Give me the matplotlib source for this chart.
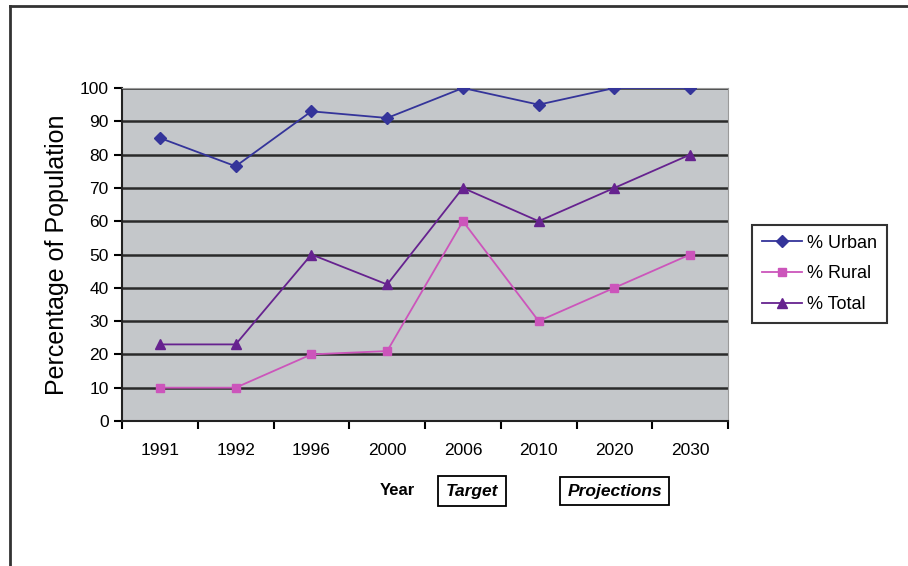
import matplotlib.pyplot as plt
from matplotlib.lines import Line2D
import numpy as np

plt.rcParams['font.family'] = ['Liberation Sans', 'DejaVu Sans']

years = ['1991', '1992', '1996', '2000', '2006', '2010', '2020', '2030']
urban = [85, 76.5, 93, 91, 100, 95, 100, 100]
rural = [10, 10, 20, 21, 60, 30, 40, 50]
total = [23, 23, 50, 41, 70, 60, 70, 80]

fig = plt.figure(figsize=(9.08, 5.66), dpi=100)
ax = fig.add_axes([0.1344, 0.2562, 0.6674, 0.5883])
ax.set_facecolor('#c4c7ca')

x = np.arange(len(years))
ax.plot(x, urban, color='#34349a', marker='D', markersize=6, lw=1.3, label='% Urban', zorder=5)
ax.plot(x, rural, color='#cc55bb', marker='s', markersize=6, lw=1.3, label='% Rural', zorder=4)
ax.plot(x, total, color='#66228f', marker='^', markersize=7.5, lw=1.3, label='% Total', zorder=4)

ax.set_xlim(-0.5, len(years) - 0.5)
ax.set_ylim(0, 100)
ax.set_yticks(np.arange(0, 101, 10))
ax.set_xticks(x)
ax.set_xticklabels(years)
ax.set_xticks(np.arange(-0.5, len(years) - 0.4, 1), minor=True)
ax.tick_params(axis='x', which='major', length=0, pad=16, labelsize=12.5)
ax.tick_params(axis='x', which='minor', length=6, width=1.5, direction='out')
ax.tick_params(axis='y', length=6, width=1.5, direction='out', labelsize=12.5)
ax.grid(axis='y', color='#2a2a2a', lw=1.8)
ax.set_axisbelow(True)
for s in ['top', 'right']:
    ax.spines[s].set_color('#9a9a9a')
for s in ['left', 'bottom']:
    ax.spines[s].set_linewidth(1.5)
    ax.spines[s].set_color('#222222')

ax.set_ylabel('Percentage of Population', fontsize=18, labelpad=8)

leg = ax.legend(loc='upper left', bbox_to_anchor=(1.04, 0.589), fontsize=13,
                frameon=True, fancybox=False, edgecolor='black', borderpad=0.55,
                borderaxespad=0, labelspacing=0.75, handlelength=2.2, handletextpad=0.3)
leg.get_frame().set_linewidth(1.5)

fig.text(0.438, 0.134, 'Year', fontsize=12, fontweight='bold', ha='center', va='center')
fig.text(0.520, 0.1325, 'Target', fontsize=12.5, fontweight='bold', style='italic',
         ha='center', va='center',
         bbox=dict(boxstyle='square,pad=0.45', fc='white', ec='black', lw=1.3))
fig.text(0.677, 0.1325, 'Projections', fontsize=12.5, fontweight='bold', style='italic',
         ha='center', va='center',
         bbox=dict(boxstyle='square,pad=0.4', fc='white', ec='black', lw=1.3))

# outer frame (top and left only)
fig.add_artist(Line2D([0.011, 1.0], [0.989, 0.989], color='#333333', lw=2, transform=fig.transFigure))
fig.add_artist(Line2D([0.011, 0.011], [0.0, 0.989], color='#333333', lw=2, transform=fig.transFigure))

plt.savefig('out.png', dpi=100)
